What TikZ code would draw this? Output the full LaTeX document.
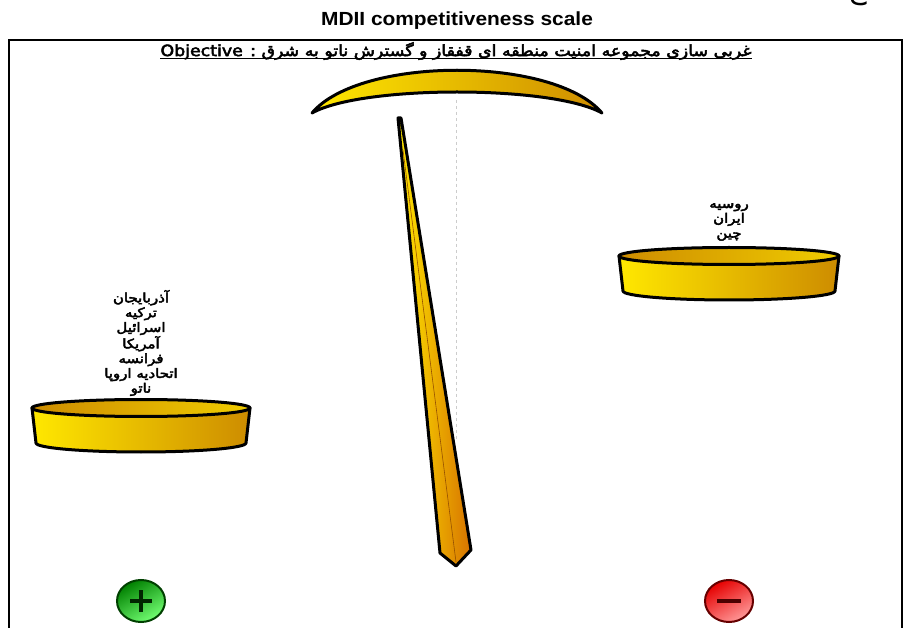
\documentclass[tikz,border=0pt]{standalone}
\usepackage{fontspec}
\setmainfont{Liberation Sans}
\newfontfamily\arabicfont[Script=Arabic]{DejaVu Sans}
\newfontfamily\arabicbold[Script=Arabic, FakeBold=3]{DejaVu Sans}
\TeXXeTstate=1
\usetikzlibrary{shapes.geometric}

\definecolor{goldA}{RGB}{255,232,0}
\definecolor{goldB}{RGB}{205,140,0}
\definecolor{goldC}{RGB}{215,115,0}

\tikzset{
  rim/.style={draw=black, line width=3pt, line join=round},
  btn/.style={ellipse, minimum width=48, minimum height=42, line width=2pt},
  fa/.style={font=\arabicbold\fontsize{13}{14.8}\selectfont, align=center, inner sep=0pt, xscale=1.15}
}
% pan of the balance: centre x, rim y, half width
\newcommand{\Pan}[3]{%
  \draw[rim, left color=goldA, right color=goldB] (#1-#3,#2) -- (#1-#3+4,#2+35)
    arc[start angle=180, end angle=0, x radius=#3-4, y radius=9] -- (#1+#3,#2) -- cycle;
  \draw[rim, left color=goldB, right color=goldA!70!goldB] (#1,#2) ellipse[x radius=#3, y radius=8.5];
}

\begin{document}
\begin{tikzpicture}[x=1pt, y=-1pt]
\useasboundingbox (0,0) rectangle (903,628);

\node[font=\bfseries\fontsize{19}{20}\selectfont, xscale=1.1] (title) at (457,21) {MDII competitiveness scale};
\node[font=\arabicfont\fontsize{30}{30}\selectfont] (glyph) at (858,-6) {ع};
\draw[line width=1.4pt] (9,640) -- (9,40) -- (902,40) -- (902,640);

\node[font=\arabicbold\fontsize{15.5}{16}\selectfont, inner sep=0pt, xscale=1.12] (objective) at (456,51)
  {\beginR غربی سازی مجموعه امنیت منطقه ای قفقاز و گسترش ناتو به شرق : \beginL Objective\endL\endR};
\draw[line width=1pt] ([yshift=-2.5pt]objective.base west) -- ([yshift=-2.5pt]objective.base east);

% beam and needle
\draw[gray!40, dashed, line width=0.6pt] (456,100) -- (456,440);
\draw[rim, left color=goldA, right color=goldB] (312,113) .. controls (360,56) and (554,56) .. (602,113)
  .. controls (552,85) and (362,85) .. cycle;
\draw[rim, left color=goldA, right color=goldC] (398,118) -- (401,118) -- (471,550) -- (456,566) -- (440,553) -- cycle;
\draw[goldC!70!black, line width=0.6pt] (403,150) -- (456,562);

% pans
\Pan{141}{408}{109}
\Pan{729}{256}{110}

\node[fa] (pro) at (141,343) {\beginR آذربایجان\endR\\ \beginR ترکیه\endR\\ \beginR اسرائیل\endR\\
  \beginR آمریکا\endR\\ \beginR فرانسه\endR\\ \beginR اتحادیه اروپا\endR\\ \beginR ناتو\endR};
\node[fa] (contra) at (729,222) {\beginR روسیه\endR\\ \beginR ایران\endR\\ \beginR چین\endR};

% signs
\node[btn, draw=green!25!black, top color=green!50!black, bottom color=green!55!white, shading angle=30] (plus) at (141,601) {};
\draw[line width=3.4pt, green!15!black] ([xshift=-11pt]plus.center) -- ([xshift=11pt]plus.center)
  ([yshift=-11pt]plus.center) -- ([yshift=11pt]plus.center);
\node[btn, draw=red!40!black, top color=red!90!black, bottom color=red!40!white, shading angle=30] (minus) at (729,601) {};
\draw[line width=3.4pt, red!30!black] ([xshift=-12pt]minus.center) -- ([xshift=12pt]minus.center);

\end{tikzpicture}
\end{document}
